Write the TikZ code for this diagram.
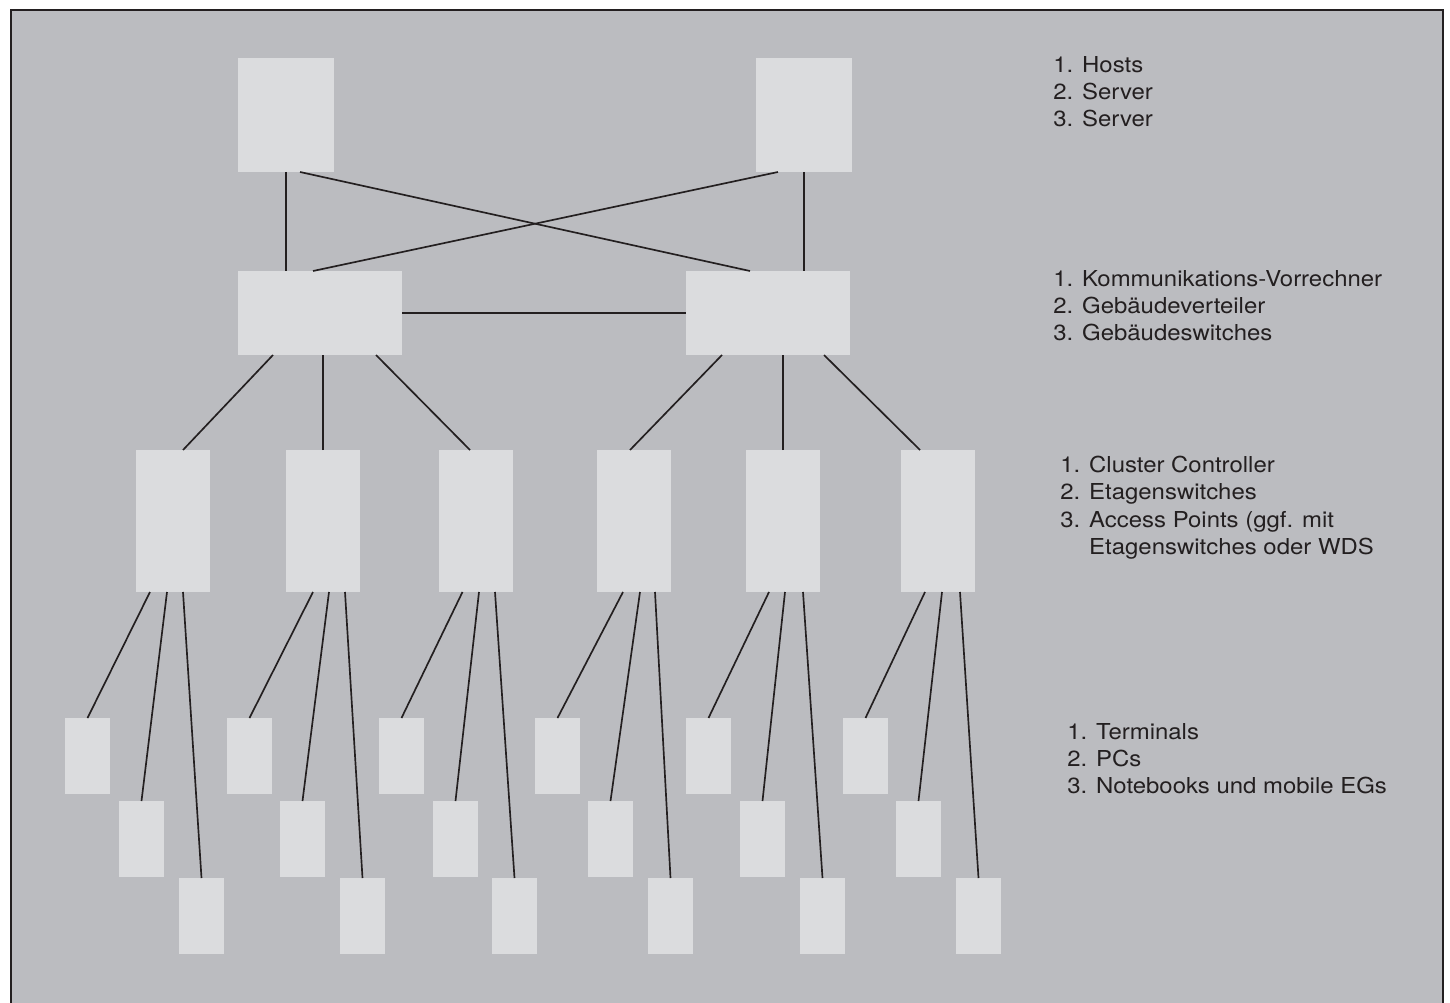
\documentclass[tikz,border=0pt]{standalone}
\usepackage{fontspec}
\setmainfont[FakeStretch=1.09]{TeX Gyre Heros}

\definecolor{panelgray}{RGB}{187,188,192}
\definecolor{boxgray}{RGB}{219,220,222}
\definecolor{linkblack}{RGB}{35,31,32}

\newcommand{\px}{0.02cm}

\tikzset{
	unit/.style={fill=boxgray, draw=none, inner sep=0, outer sep=0},
	host/.style={unit, minimum width=96*\px, minimum height=114*\px},
	distrib/.style={unit, minimum width=164*\px, minimum height=84*\px},
	cluster/.style={unit, minimum width=74*\px, minimum height=142*\px},
	leaf/.style={unit, minimum width=45*\px, minimum height=76*\px},
	link/.style={draw=linkblack, line width=0.95pt},
	legend/.style={anchor=north west, inner sep=0, align=left,
		font=\fontsize{12.5}{15.5}\selectfont, text=linkblack}
}

\begin{document}
\begin{tikzpicture}[x=\px, y=-\px]
\useasboundingbox (0,0) rectangle (1450,1003);
\clip (0,0) rectangle (1450,1003);
\draw[fill=panelgray, draw=linkblack, line width=1.2pt] (11,10) rectangle (1443,1030);

\pgfmathsetmacro{\rowA}{756}
\pgfmathsetmacro{\rowB}{839}
\pgfmathsetmacro{\rowC}{916}

\node[host] (h1) at (286,115) {};
\node[host] (h2) at (804,115) {};
\node[distrib] (m1) at (320,313) {};
\node[distrib] (m2) at (768,313) {};

\foreach \g/\cx in {1/173,2/323,3/476,4/634,5/783,6/938}
	\node[cluster] (c\g) at (\cx,521) {};

\draw[link] (h1.south) -- (h1.south |- m1.north);
\draw[link] (h2.south) -- (h2.south |- m2.north);
\draw[link] ([xshift=14*\px]h1.south) -- ([xshift=-18*\px]m2.north);
\draw[link] ([xshift=-26*\px]h2.south) -- ([xshift=-7*\px]m1.north);
\draw[link] (m1.east) -- (m2.west);

\draw[link] ([xshift=-47*\px]m1.south) -- ([xshift=10*\px]c1.north);
\draw[link] (c2.north) -- (c2.north |- m1.south);
\draw[link] ([xshift=56*\px]m1.south) -- ([xshift=-6*\px]c3.north);
\draw[link] ([xshift=-46*\px]m2.south) -- ([xshift=-4*\px]c4.north);
\draw[link] (c5.north) -- (c5.north |- m2.south);
\draw[link] ([xshift=56*\px]m2.south) -- ([xshift=-18*\px]c6.north);

\foreach \g/\la/\lb/\lc/\sa/\sb/\sc in {
	1/87.5/141.5/201.5/-23/-6/10,
	2/249.5/302.5/362.5/-10/6/22,
	3/401.5/455.5/514.5/-13.5/3/19,
	4/557.5/610.5/670.5/-11/6/21,
	5/708.5/762.5/822.5/-14/2/20,
	6/865.5/918.5/978.5/-13/4/22}
{
	\node[leaf] (t\g-1) at (\la,\rowA) {};
	\node[leaf] (t\g-2) at (\lb,\rowB) {};
	\node[leaf] (t\g-3) at (\lc,\rowC) {};
	\draw[link] ([xshift=\sa*\px]c\g.south) -- (t\g-1.north);
	\draw[link] ([xshift=\sb*\px]c\g.south) -- (t\g-2.north);
	\draw[link] ([xshift=\sc*\px]c\g.south) -- (t\g-3.north);
}

\node[legend] (lgHosts) at (1053,56) {1. Hosts\\2. Server\\3. Server};
\node[legend] (lgDistrib) at (1053,270) {1. Kommunikations-Vorrechner\\2. Gebäudeverteiler\\3. Gebäudeswitches};
\node[legend] (lgCluster) at (1060,456) {1. Cluster Controller\\2. Etagenswitches\\3. Access Points (ggf. mit\\\phantom{3. }Etagenswitches oder WDS};
\node[legend] (lgTerm) at (1067,723) {1. Terminals\\2. PCs\\3. Notebooks und mobile EGs};
\end{tikzpicture}
\end{document}
